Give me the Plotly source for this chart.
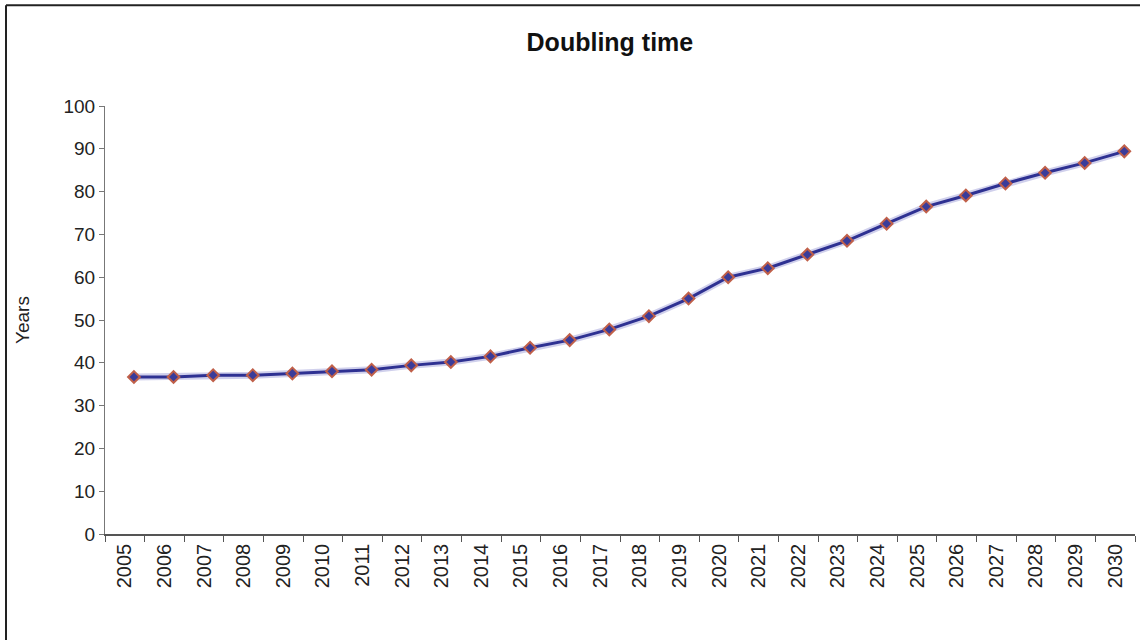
import plotly.graph_objects as go

years = list(range(2005, 2031))
doubling_time = [36.7, 36.7, 37.1, 37.1, 37.5, 38.0, 38.4, 39.4, 40.2, 41.5,
                 43.5, 45.3, 47.8, 50.9, 55.0, 60.0, 62.1, 65.3, 68.5, 72.5,
                 76.5, 79.1, 81.9, 84.4, 86.7, 89.4]
tick_labels = [str(y) for y in years]
y_ticks = list(range(0, 101, 10))

FONT = "Liberation Sans, Arial, sans-serif"
LABEL_SHIFT = 0.23  # labels sit slightly left of the points in the reference

fig = go.Figure()
# soft halo under line
fig.add_trace(go.Scatter(
    x=years, y=doubling_time, mode="lines",
    line=dict(color="rgba(120,120,200,0.35)", width=7),
    hoverinfo="skip", showlegend=False))
fig.add_trace(go.Scatter(
    x=years, y=doubling_time, mode="lines+markers",
    line=dict(color="#2E3192", width=3),
    marker=dict(symbol="diamond", size=9, color="#3A3C9A",
                line=dict(color="#C0604A", width=2)),
    showlegend=False, name="Doubling time"))

fig.update_layout(
    width=1140, height=640,
    paper_bgcolor="white", plot_bgcolor="white",
    margin=dict(l=105, r=5, t=106, b=106),
    title=dict(text="<b>Doubling time</b>", x=0.535, xanchor="center",
               y=1 - 42 / 640, yanchor="middle",
               font=dict(family=FONT, size=25, color="#111")),
    font=dict(family=FONT, size=19, color="#222"),
)
fig.update_xaxes(
    range=[2004.27, 2030.27], tickmode="array",
    tickvals=[y - LABEL_SHIFT for y in years],
    ticktext=tick_labels, tickangle=-90, ticks="", showgrid=False,
    showline=True, linecolor="#555", linewidth=1.5, zeroline=False,
    tickfont=dict(family=FONT, size=20, color="#222"),
    minor=dict(tick0=2004.27, dtick=1, ticks="outside", ticklen=6,
               tickcolor="#555", showgrid=False),
)
fig.update_yaxes(
    range=[0, 100], tickmode="array", tickvals=y_ticks,
    ticks="outside", ticklen=5, tickcolor="#777", showgrid=False,
    showline=True, linecolor="#777", linewidth=1, zeroline=False,
    title=dict(text="Years", font=dict(family=FONT, size=19, color="#222"),
               standoff=28),
    tickfont=dict(family=FONT, size=19, color="#222"),
)
# outer frame (left and top visible)
fig.add_shape(type="line", xref="paper", yref="paper",
              x0=(6 - 105) / 1030, x1=(6 - 105) / 1030,
              y0=(533.7 - 640) / 428, y1=(533.7 - 5) / 428,
              line=dict(color="#222", width=2))
fig.add_shape(type="line", xref="paper", yref="paper",
              x0=(6 - 105) / 1030, x1=(1140 - 105) / 1030,
              y0=(533.7 - 5) / 428, y1=(533.7 - 5) / 428,
              line=dict(color="#222", width=2))

fig.write_html("out.html", config={"displayModeBar": False},
               post_script="document.body.style.margin='0';")
